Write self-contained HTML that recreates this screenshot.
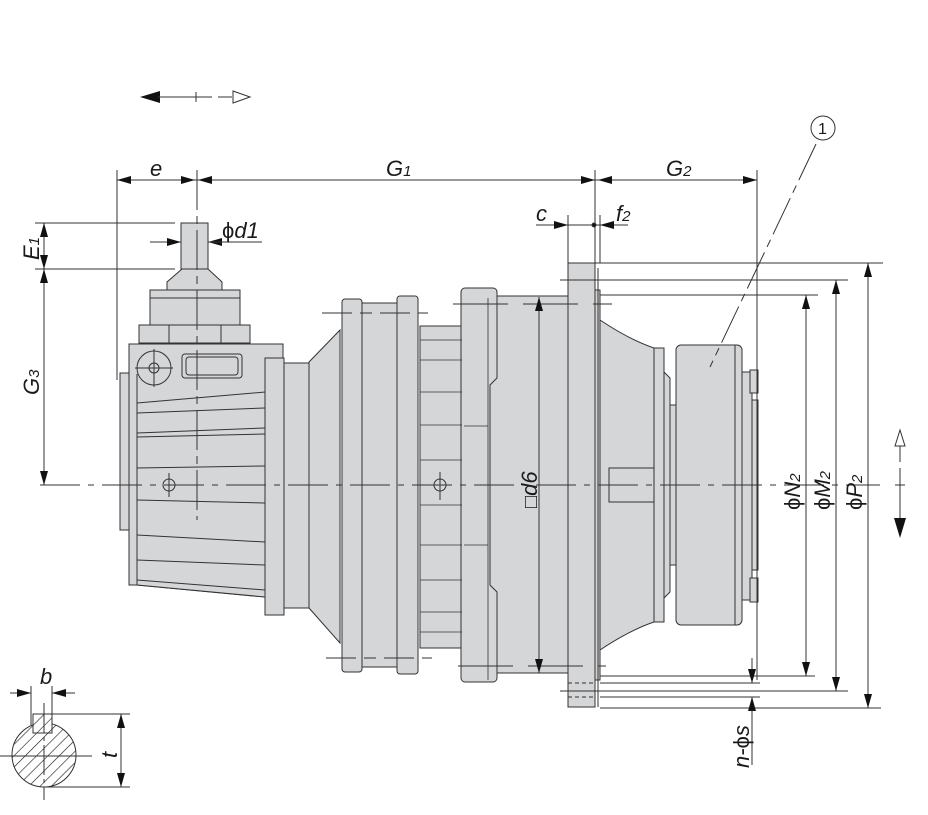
<!DOCTYPE html>
<html><head><meta charset="utf-8"><style>
html,body{margin:0;padding:0;background:#fff;}
svg{display:block;font-family:"Liberation Sans",sans-serif;}
</style></head><body>
<svg width="928" height="815" viewBox="0 0 928 815" xmlns="http://www.w3.org/2000/svg">
<defs>
<marker id="a2" viewBox="0 0 14 8" refX="14" refY="4" markerWidth="14" markerHeight="8" orient="auto-start-reverse" markerUnits="userSpaceOnUse"><path d="M0,0L14,4L0,8z" fill="#111"/></marker>
<pattern id="h" width="8" height="8" patternUnits="userSpaceOnUse" patternTransform="rotate(45)"><line x1="0" y1="0" x2="0" y2="8" stroke="#111" stroke-width="1.2"/></pattern>
</defs>
<g fill="#d5d6d8" stroke="#333" stroke-width="1">
<rect x="181" y="223" width="27" height="46"/>
<path d="M182,269H208L222,282V290H167V282Z"/>
<rect x="150" y="290" width="90" height="35"/>
<line x1="150" y1="298" x2="240" y2="298"/>
<rect x="139" y="325" width="111" height="18"/>
<line x1="169" y1="325" x2="169" y2="343"/><line x1="221" y1="325" x2="221" y2="343"/>
<rect x="120" y="373" width="10" height="157"/>
<path d="M129,344H283V598L265,597L137,585H129Z"/>
<path d="M137,403L265,392V597L137,585Z"/>
<circle cx="154" cy="368" r="17" fill="none"/>
<rect x="182" y="354" width="60" height="24" rx="3"/>
<rect x="186" y="357" width="52" height="18" rx="3" fill="none"/>
<rect x="265" y="358" width="19" height="257"/>
<rect x="284" y="363" width="25" height="245"/>
<path d="M309,362L340,330V643L309,608Z"/>
<rect x="342" y="299" width="20" height="373" rx="3"/>
<rect x="362" y="303" width="35" height="364"/>
<rect x="397" y="296" width="21" height="378" rx="3"/>
<rect x="420" y="326" width="42" height="322"/>
<rect x="461" y="288" width="36" height="394" rx="4"/>
<path d="M497,296H568V673H497V592L490,585V385L497,378Z"/>
<rect x="568" y="263" width="27" height="444"/>
<rect x="595" y="290" width="5" height="390"/>
<path d="M600,320Q630,340 654,348V622Q630,630 600,650Z"/>
<rect x="654" y="348" width="10" height="274"/>
<path d="M664,372L670,378V592L664,598Z"/>
<rect x="670" y="405" width="6" height="160"/>
<rect x="676" y="345" width="66" height="280" rx="5"/>
<line x1="735" y1="345" x2="735" y2="625"/>
<rect x="742" y="372" width="10" height="228"/>
<rect x="752" y="400" width="6" height="170"/>
<rect x="750" y="370" width="8" height="23"/>
<rect x="750" y="578" width="8" height="24"/>
<rect x="609" y="468" width="45" height="34"/>
</g>
<g stroke="#333" stroke-width="1" fill="none">
<line x1="137" y1="413" x2="265" y2="408"/><line x1="137" y1="433" x2="265" y2="428"/><line x1="137" y1="437" x2="265" y2="434"/>
<line x1="137" y1="468" x2="265" y2="466"/><line x1="137" y1="500" x2="265" y2="503"/><line x1="137" y1="535" x2="265" y2="542"/><line x1="137" y1="560" x2="265" y2="565"/><line x1="137" y1="580" x2="265" y2="590"/>
<line x1="137" y1="374" x2="137" y2="403"/>
<g stroke-width="0.8"><line x1="420" y1="340" x2="462" y2="340"/><line x1="420" y1="360" x2="462" y2="360"/><line x1="420" y1="392" x2="462" y2="392"/><line x1="420" y1="425" x2="462" y2="425"/><line x1="420" y1="460" x2="462" y2="460"/><line x1="420" y1="505" x2="462" y2="505"/><line x1="420" y1="545" x2="462" y2="545"/><line x1="420" y1="580" x2="462" y2="580"/><line x1="420" y1="612" x2="462" y2="612"/><line x1="420" y1="632" x2="462" y2="632"/>
<line x1="488" y1="298" x2="488" y2="680"/><line x1="464" y1="426" x2="488" y2="426"/><line x1="464" y1="545" x2="488" y2="545"/></g>
<circle cx="154" cy="368" r="5"/><line x1="135" y1="368" x2="173" y2="368"/><line x1="154" y1="349" x2="154" y2="387"/>
<circle cx="169" cy="485" r="6"/><line x1="169" y1="473" x2="169" y2="497"/>
<circle cx="440" cy="485" r="6"/><line x1="440" y1="472" x2="440" y2="500"/>
<line x1="598" y1="268" x2="598" y2="707"/>
<line x1="40" y1="485" x2="880" y2="485" stroke-dasharray="40,8,6,8"/>
<line x1="197" y1="170" x2="197" y2="520" stroke-dasharray="40,6,8,6"/>
<line x1="322" y1="313" x2="428" y2="313" stroke-dasharray="30,8,12,8"/>
<line x1="326" y1="658" x2="432" y2="658" stroke-dasharray="30,8,12,8"/>
<line x1="453" y1="304" x2="612" y2="304" stroke-dasharray="55,15"/>
<line x1="458" y1="666" x2="606" y2="666" stroke-dasharray="55,15"/>
<line x1="117" y1="170" x2="117" y2="380"/>
<line x1="595" y1="170" x2="595" y2="263"/>
<line x1="757" y1="170" x2="757" y2="680"/>
<line x1="568" y1="215" x2="568" y2="263"/>
<line x1="600" y1="215" x2="600" y2="263"/>
<line x1="35" y1="223" x2="175" y2="223"/><line x1="35" y1="269" x2="175" y2="269"/>
<line x1="568" y1="263" x2="883" y2="263"/>
<line x1="560" y1="280" x2="848" y2="280"/>
<line x1="600" y1="295" x2="818" y2="295"/>
<line x1="600" y1="676" x2="815" y2="676"/>
<line x1="600" y1="683" x2="760" y2="683"/>
<line x1="560" y1="691" x2="848" y2="691"/>
<line x1="600" y1="697" x2="760" y2="697"/>
<line x1="600" y1="708" x2="881" y2="708"/>
<line x1="568" y1="683" x2="595" y2="683" stroke-dasharray="4,3"/><line x1="568" y1="697" x2="595" y2="697" stroke-dasharray="4,3"/>
<line x1="117" y1="180" x2="757" y2="180"/>
<line x1="130" y1="180" x2="117" y2="180" marker-end="url(#a2)"/>
<line x1="180" y1="180" x2="195" y2="180" marker-end="url(#a2)"/>
<line x1="212" y1="180" x2="198" y2="180" marker-end="url(#a2)"/>
<line x1="580" y1="180" x2="595" y2="180" marker-end="url(#a2)"/>
<line x1="612" y1="180" x2="598" y2="180" marker-end="url(#a2)"/>
<line x1="740" y1="180" x2="757" y2="180" marker-end="url(#a2)"/>
<line x1="150" y1="242" x2="181" y2="242" marker-end="url(#a2)"/>
<line x1="240" y1="242" x2="208" y2="242" marker-end="url(#a2)"/>
<line x1="208" y1="242" x2="262" y2="242"/>
<line x1="536" y1="225" x2="568" y2="225" marker-end="url(#a2)"/>
<line x1="628" y1="225" x2="600" y2="225" marker-end="url(#a2)"/>
<line x1="568" y1="225" x2="600" y2="225"/>
<circle cx="594" cy="225" r="2" fill="#111"/>
<line x1="44" y1="246" x2="44" y2="223" marker-end="url(#a2)"/>
<line x1="44" y1="246" x2="44" y2="269" marker-end="url(#a2)"/>
<line x1="44" y1="380" x2="44" y2="269" marker-end="url(#a2)"/>
<line x1="44" y1="380" x2="44" y2="485" marker-end="url(#a2)"/>
<line x1="539" y1="480" x2="539" y2="297" marker-end="url(#a2)"/>
<line x1="539" y1="480" x2="539" y2="673" marker-end="url(#a2)"/>
<line x1="806" y1="480" x2="806" y2="295" marker-end="url(#a2)"/>
<line x1="806" y1="480" x2="806" y2="676" marker-end="url(#a2)"/>
<line x1="836" y1="480" x2="836" y2="280" marker-end="url(#a2)"/>
<line x1="836" y1="480" x2="836" y2="691" marker-end="url(#a2)"/>
<line x1="868" y1="480" x2="868" y2="263" marker-end="url(#a2)"/>
<line x1="868" y1="480" x2="868" y2="708" marker-end="url(#a2)"/>
<line x1="752" y1="658" x2="752" y2="683" marker-end="url(#a2)"/>
<line x1="752" y1="765" x2="752" y2="697" marker-end="url(#a2)"/>
<line x1="816" y1="144" x2="710" y2="367" stroke-dasharray="40,6,8,6"/>
<circle cx="823" cy="128" r="12"/>
<path d="M140,97L160,91V103Z" fill="#111" stroke="none"/>
<line x1="158" y1="97" x2="212" y2="97"/><line x1="196" y1="92" x2="196" y2="102"/><line x1="218" y1="97" x2="232" y2="97"/>
<path d="M233,91L250,97L233,103Z" fill="#fff"/>
<path d="M900,430L895,446H905Z" fill="#fff"/>
<line x1="900" y1="446" x2="900" y2="462"/><line x1="900" y1="468" x2="900" y2="518"/><line x1="895" y1="485" x2="905" y2="485"/>
<path d="M894,518H906L900,538Z" fill="#111" stroke="none"/>
<circle cx="44" cy="755" r="32" fill="url(#h)"/>
<rect x="33" y="714" width="19" height="19" fill="#fff"/>
<rect x="33" y="714" width="19" height="19" fill="url(#h)"/>
<line x1="0" y1="756" x2="92" y2="756"/><line x1="44" y1="703" x2="44" y2="800" stroke-dasharray="30,4,4,4"/>
<line x1="31" y1="686" x2="31" y2="725"/><line x1="52" y1="686" x2="52" y2="714"/>
<line x1="10" y1="693" x2="31" y2="693" marker-end="url(#a2)"/>
<line x1="75" y1="693" x2="52" y2="693" marker-end="url(#a2)"/>
<line x1="52" y1="714" x2="130" y2="714"/><line x1="44" y1="787" x2="130" y2="787"/>
<line x1="121" y1="750" x2="121" y2="714" marker-end="url(#a2)"/>
<line x1="121" y1="750" x2="121" y2="787" marker-end="url(#a2)"/>
</g>
<g fill="#1a1a1a" font-style="italic" font-size="22">
<text x="150" y="176">e</text>
<text x="386" y="176">G<tspan font-size="15">1</tspan></text>
<text x="666" y="176">G<tspan font-size="15">2</tspan></text>
<text x="536" y="221">c</text>
<text x="616" y="221">f<tspan font-size="15">2</tspan></text>
<text x="222" y="238" font-style="normal">ϕ<tspan font-style="italic">d1</tspan></text>
<text transform="translate(39,260) rotate(-90)">E<tspan font-size="15">1</tspan></text>
<text transform="translate(39,395) rotate(-90)">G<tspan font-size="15">3</tspan></text>
<text transform="translate(537,508) rotate(-90)"><tspan font-style="normal" font-size="20">□</tspan>d6</text>
<text transform="translate(800,510) rotate(-90)"><tspan font-style="normal">ϕ</tspan>N<tspan font-size="15">2</tspan></text>
<text transform="translate(830,510) rotate(-90)"><tspan font-style="normal">ϕ</tspan>M<tspan font-size="15">2</tspan></text>
<text transform="translate(862,510) rotate(-90)"><tspan font-style="normal">ϕ</tspan>P<tspan font-size="15">2</tspan></text>
<text transform="translate(749,768) rotate(-90)">n-<tspan font-style="normal">ϕ</tspan>s</text>
<text x="40" y="684">b</text>
<text transform="translate(117,758) rotate(-90)">t</text>
<text x="818" y="134" font-style="normal" font-size="16">1</text>
</g>
</svg>
</body></html>
